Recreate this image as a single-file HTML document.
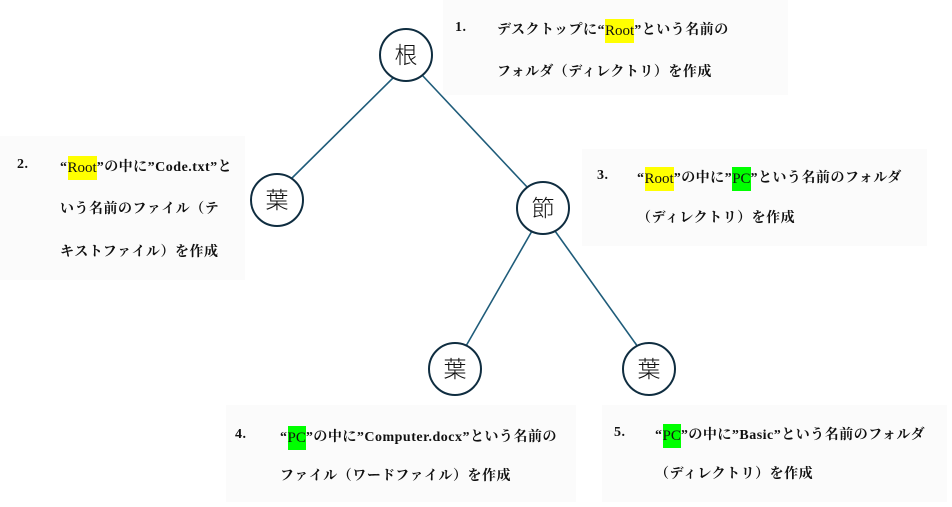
<!DOCTYPE html>
<html><head><meta charset="utf-8"><style>
body{margin:0;width:952px;height:507px;background:#fff;position:relative;overflow:hidden;font-family:"Liberation Serif","Noto Serif CJK SC",serif;font-size:14px;color:#111;font-weight:bold}
.bx{position:absolute;background:#fbfbfb}
.t{position:absolute;white-space:nowrap;line-height:18px;letter-spacing:0.5px}
.y,.g{font-weight:normal;font-size:15px;display:inline-block;line-height:24px;vertical-align:middle;letter-spacing:0}
.y{background:#ffff00}
.g{background:#00ff00}
</style></head><body>
<div class="bx" style="left:443px;top:0;width:345px;height:95px"></div>
<div class="bx" style="left:0;top:136px;width:245px;height:144px"></div>
<div class="bx" style="left:582px;top:149px;width:345px;height:97px"></div>
<div class="bx" style="left:226px;top:405px;width:350px;height:97px"></div>
<div class="bx" style="left:602px;top:405px;width:345px;height:97px"></div>
<svg width="952" height="507" style="position:absolute;left:0;top:0">
<g stroke="#1f5c7a" stroke-width="1.6">
<line x1="394" y1="77" x2="290" y2="180"/>
<line x1="422" y1="75" x2="528" y2="188"/>
<line x1="532" y1="231" x2="466" y2="346"/>
<line x1="555" y1="231" x2="638" y2="347"/>
</g>
<g fill="#fff" stroke="#0f2d40" stroke-width="2">
<circle cx="406" cy="55" r="26"/>
<circle cx="277" cy="200" r="26"/>
<circle cx="543" cy="208" r="26"/>
<circle cx="455" cy="369" r="26"/>
<circle cx="649" cy="369" r="26"/>
</g>
<g font-family="Noto Sans CJK SC, sans-serif" font-weight="300" font-size="23" text-anchor="middle" fill="#111">
<text x="406" y="63">根</text>
<text x="277" y="208">葉</text>
<text x="543" y="216">節</text>
<text x="455" y="377">葉</text>
<text x="649" y="377">葉</text>
</g>
</svg>
<div class="t" style="left:455px;top:19px">1.</div>
<div class="t" style="left:497px;top:19px">デスクトップに“<span class="y">Root</span>”という名前の</div>
<div class="t" style="left:497px;top:64px">フォルダ（ディレクトリ）を作成</div>
<div class="t" style="left:17px;top:156px">2.</div>
<div class="t" style="left:60px;top:156px">“<span class="y">Root</span>”の中に”Code.txt”と</div>
<div class="t" style="left:60px;top:201px">いう名前のファイル（テ</div>
<div class="t" style="left:60px;top:244px">キストファイル）を作成</div>
<div class="t" style="left:597px;top:167px">3.</div>
<div class="t" style="left:637px;top:167px">“<span class="y">Root</span>”の中に”<span class="g">PC</span>”という名前のフォルダ</div>
<div class="t" style="left:637px;top:210px">（ディレクトリ）を作成</div>
<div class="t" style="left:235px;top:426px">4.</div>
<div class="t" style="left:280px;top:426px">“<span class="g">PC</span>”の中に”Computer.docx”という名前の</div>
<div class="t" style="left:280px;top:468px">ファイル（ワードファイル）を作成</div>
<div class="t" style="left:614px;top:424px">5.</div>
<div class="t" style="left:655px;top:424px">“<span class="g">PC</span>”の中に”Basic”という名前のフォルダ</div>
<div class="t" style="left:655px;top:466px">（ディレクトリ）を作成</div>
</body></html>
